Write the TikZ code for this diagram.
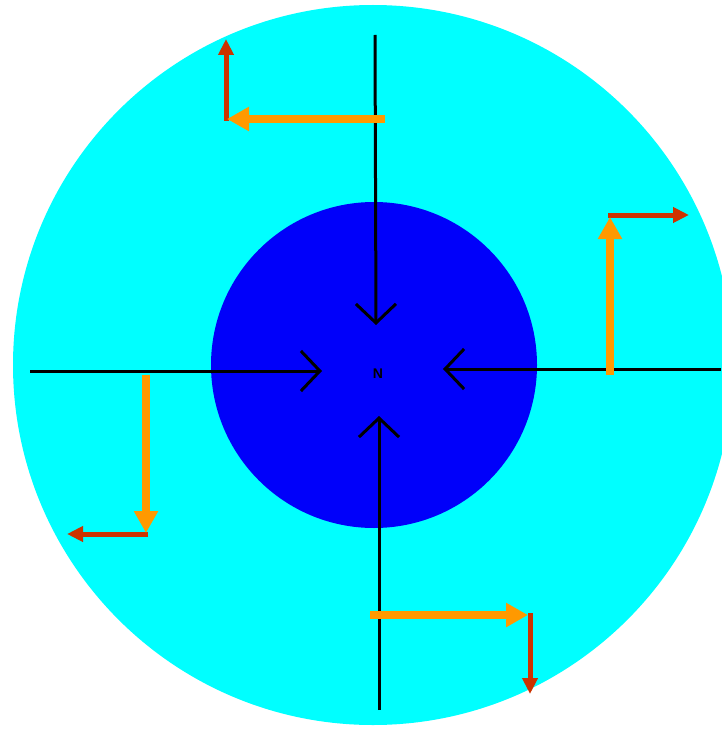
\documentclass[tikz,border=0pt]{standalone}
\usepackage{fontspec}
\setmainfont{Liberation Sans}
\usetikzlibrary{arrows.meta}
\definecolor{outercyan}{RGB}{0,255,255}
\definecolor{innerblue}{RGB}{0,0,250}
\definecolor{arrorange}{RGB}{255,153,0}
\definecolor{arrred}{RGB}{204,51,0}
\begin{document}
\begin{tikzpicture}[x=1pt,y=-1pt,
  blackarrow/.style={draw=black,line width=3pt,-{Straight Barb[length=19pt,width=40pt]}},
  orangearrow/.style={draw=arrorange,line width=8pt,-{Triangle[length=22pt,width=23pt]}},
  redarrow/.style={draw=arrred,line width=5pt,-{Triangle[length=16pt,width=15pt]}},
  labeltext/.style={font=\fontsize{14}{14}\selectfont\bfseries,text=black,inner sep=0pt}]
\useasboundingbox (0,0) rectangle (721,730);
\fill[white] (0,0) rectangle (721,730);
% circles
\fill[outercyan] (373,365) circle[radius=360];
\fill[innerblue] (374,365) circle[radius=163];
% label
\node[labeltext] (N) at (378,374) {N};
% coordinates for black arrows
\coordinate (topS) at (375,35);
\coordinate (topE) at (376,325);
\coordinate (leftS) at (30,371);
\coordinate (leftE) at (322,371);
\coordinate (rightS) at (721,369);
\coordinate (rightE) at (443,369);
\coordinate (botS) at (379,710);
\coordinate (botE) at (379,416);
\draw[blackarrow] (topS) -- (topE);
\draw[blackarrow] (leftS) -- (leftE);
\draw[blackarrow] (rightS) -- (rightE);
\draw[blackarrow] (botS) -- (botE);
% top-left pair
\coordinate (tlO1) at (385,119);
\coordinate (tlO2) at (227,119);
\coordinate (tlR1) at (226,121);
\coordinate (tlR2) at (226,39);
\draw[redarrow] (tlR1) -- (tlR2);
\draw[orangearrow] (tlO1) -- (tlO2);
% right pair
\coordinate (rO1) at (610,375);
\coordinate (rO2) at (610,217);
\coordinate (rR1) at (608,215);
\coordinate (rR2) at (689,215);
\draw[redarrow] (rR1) -- (rR2);
\draw[orangearrow] (rO1) -- (rO2);
% left pair
\coordinate (lO1) at (146,375);
\coordinate (lO2) at (146,533);
\coordinate (lR1) at (148,534);
\coordinate (lR2) at (67,534);
\draw[redarrow] (lR1) -- (lR2);
\draw[orangearrow] (lO1) -- (lO2);
% bottom pair
\coordinate (bO1) at (370,615);
\coordinate (bO2) at (528,615);
\coordinate (bR1) at (530,613);
\coordinate (bR2) at (530,694);
\draw[redarrow] (bR1) -- (bR2);
\draw[orangearrow] (bO1) -- (bO2);
\end{tikzpicture}
\end{document}
